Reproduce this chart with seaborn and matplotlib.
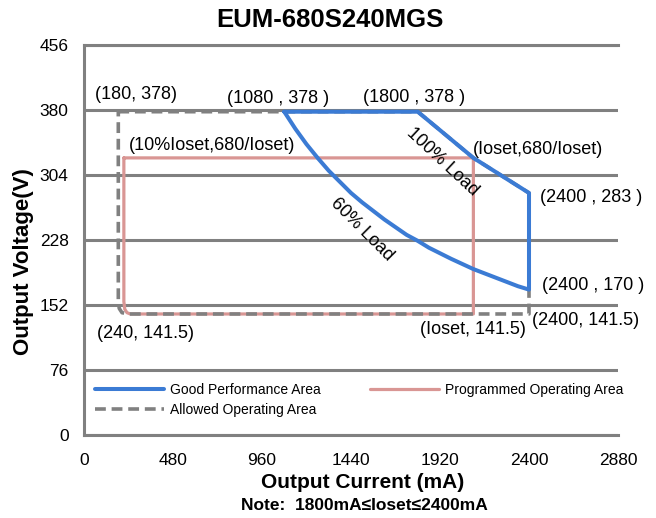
import matplotlib
matplotlib.use("Agg")
import matplotlib.pyplot as plt
import seaborn as sns
from matplotlib import font_manager

# Good Performance Area: top edge, 100% load edge, 2400 mA edge, 60% load edge
good_current = [1080, 1800, 2100, 2400, 2400, 2340, 2280, 2220, 2160, 2100, 2040,
                1980, 1920, 1860, 1800, 1740, 1680, 1620, 1560, 1500, 1440, 1380,
                1320, 1260, 1200, 1140, 1080]
good_voltage = [378, 378, 324, 283, 170, 174, 179, 184, 189, 194, 200,
                206, 212.5, 219, 227, 234, 243, 252, 262, 272, 283, 296,
                309, 324, 340, 358, 378]

# Programmed Operating Area
prog_current = [215, 2100, 2100, 250, 232, 220, 215, 215]
prog_voltage = [324, 324, 141.5, 141.5, 143, 147, 156, 324]

# Allowed Operating Area
allowed_current = [185, 1800, 2100, 2400, 2400, 245, 205, 190, 185, 185]
allowed_voltage = [378, 378, 324, 283, 141.5, 141.5, 143, 148, 158, 378]

x_ticks = [0, 480, 960, 1440, 1920, 2400, 2880]
y_ticks = [0, 76, 152, 228, 304, 380, 456]

blue = '#3b7bd4'
pink = '#d99694'
gray = '#808080'

sns.set_theme(style='white')
plt.rcParams['font.family'] = ['Liberation Sans', 'DejaVu Sans']
plt.rcParams['text.color'] = 'black'
names = {f.name for f in font_manager.fontManager.ttflist}
narrow = 'Liberation Sans Narrow' in names
legend_family = 'Liberation Sans Narrow' if narrow else 'Liberation Sans'
legend_size = 12 if narrow else 10

fig, ax = plt.subplots(figsize=(6.56, 5.18), dpi=100)
fig.subplots_adjust(left=84 / 656, right=618 / 656, bottom=1 - 435 / 518, top=1 - 45 / 518)

sns.lineplot(x=prog_current, y=prog_voltage, sort=False, estimator=None, ax=ax,
             color=pink, lw=2.3, label='Programmed Operating Area', zorder=3)
sns.lineplot(x=allowed_current, y=allowed_voltage, sort=False, estimator=None, ax=ax,
             color=gray, lw=2.6, linestyle=(0, (3, 1.6)), label='Allowed Operating Area', zorder=4)
sns.lineplot(x=good_current, y=good_voltage, sort=False, estimator=None, ax=ax,
             color=blue, lw=2.9, label='Good Performance Area', zorder=5)
for ln in ax.get_lines():
    ln.set_solid_joinstyle('round')

ax.set_xlim(0, 2880)
ax.set_ylim(0, 456)
ax.set_xticks(x_ticks)
ax.set_yticks(y_ticks)
ax.grid(axis='y', color=gray, lw=2.2)
ax.grid(axis='x', visible=False)
ax.set_axisbelow(True)
for side in ['left', 'bottom', 'top']:
    ax.spines[side].set_color(gray)
    ax.spines[side].set_linewidth(2.2)
ax.spines['right'].set_visible(False)
ax.tick_params(axis='x', direction='in', length=4, width=1.5, color=gray, pad=13,
               labelsize=12.5, labelcolor='black')
ax.tick_params(axis='y', length=0, pad=11, labelsize=12.5, labelcolor='black')
ax.set_xlabel('')
ax.set_ylabel('')

notes = [
    ('(180, 378)', 59, 398),
    ('(1080 , 378 )', 771, 394),
    ('(1800 , 378 )', 1505, 395),
    ('(10%Ioset,680/Ioset)', 243, 338),
    ('(Ioset,680/Ioset)', 2098, 334),
    ('(2400 , 283 )', 2460, 278),
    ('(2400 , 170 )', 2470, 175),
    ('(2400, 141.5)', 2416, 134),
    ('(Ioset, 141.5)', 1812, 123),
    ('(240, 141.5)', 70, 119),
]
for txt, x, y in notes:
    ax.text(x, y, txt, fontsize=13, ha='left', va='center', clip_on=False, zorder=6)
ax.text(1931, 319, '100% Load', fontsize=13, rotation=-43, ha='center', va='center', zorder=6)
ax.text(1499, 240, '60% Load', fontsize=13, rotation=-45, ha='center', va='center', zorder=6)

handles, labels = ax.get_legend_handles_labels()
order = [labels.index('Good Performance Area'), labels.index('Allowed Operating Area'),
         labels.index('Programmed Operating Area')]
ax.legend([handles[i] for i in order], [labels[i] for i in order], ncol=2,
          loc='upper left', bbox_to_anchor=(95 / 656, 1 - 383 / 518),
          bbox_transform=fig.transFigure, frameon=False, borderpad=0, borderaxespad=0,
          handlelength=50 / legend_size, handletextpad=4.3 / legend_size,
          columnspacing=35 / legend_size, labelspacing=0.45,
          prop={'family': legend_family, 'size': legend_size})

fig.text(330 / 656, 1 - 20 / 518, 'EUM-680S240MGS', fontsize=18.5, fontweight='bold',
         ha='center', va='center')
fig.text(363 / 656, 1 - 483 / 518, 'Output Current (mA)', fontsize=15, fontweight='bold',
         ha='center', va='center')
fig.text(364 / 656, 1 - 505 / 518, 'Note:  1800mA\u2264Ioset\u22642400mA', fontsize=12.5,
         fontweight='bold', ha='center', va='center')
fig.text(24 / 656, 1 - 262 / 518, 'Output Voltage(V)', fontsize=16, fontweight='bold',
         rotation=90, ha='center', va='center')

fig.savefig('out.png', dpi=100)
